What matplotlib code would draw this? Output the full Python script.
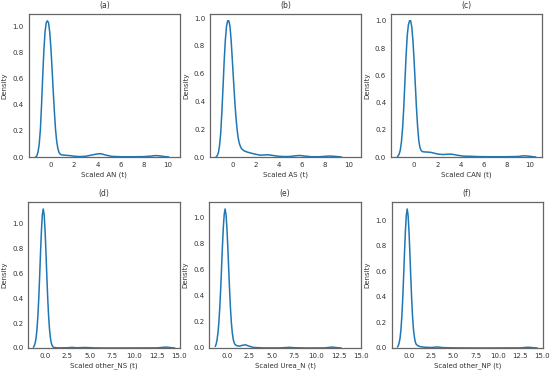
import matplotlib
matplotlib.use("Agg")
import matplotlib.pyplot as plt
import numpy as np

# ---- data (x, density) ----
a_x = [-1.3, -1.2, -1.1, -1.0, -0.9, -0.8, -0.7, -0.6, -0.5, -0.4, -0.3, -0.2, -0.1, 0.0, 0.1, 0.2, 0.3, 0.4, 0.5,
       0.6, 0.7, 0.8, 0.9, 1.2, 1.6, 2.0, 2.5, 3.0, 3.5, 4.0, 4.3, 4.7, 5.2, 6.0, 7.0, 8.0, 8.6, 9.0, 9.4, 9.8, 10.1]
a_y = [0.0, 0.01, 0.04, 0.10, 0.21, 0.40, 0.62, 0.82, 0.96, 1.03, 1.045, 1.03, 0.96, 0.84, 0.68, 0.51, 0.35, 0.21, 0.12,
       0.065, 0.035, 0.022, 0.017, 0.014, 0.011, 0.006, 0.003, 0.006, 0.015, 0.024, 0.025, 0.015, 0.005, 0.002, 0.002,
       0.003, 0.007, 0.011, 0.008, 0.003, 0.001]

b_x = [-1.4, -1.3, -1.2, -1.1, -1.0, -0.9, -0.8, -0.7, -0.6, -0.5, -0.4, -0.3, -0.2, -0.1, 0.0, 0.1, 0.2, 0.3, 0.4,
       0.5, 0.6, 0.7, 0.8, 1.0, 1.3, 1.6, 2.0, 2.4, 2.8, 3.1, 3.5, 4.0, 4.5, 5.0, 5.5, 5.8, 6.2, 6.8, 7.5, 8.0, 8.4,
       8.9, 9.4]
b_y = [0.0, 0.01, 0.03, 0.08, 0.17, 0.32, 0.50, 0.69, 0.84, 0.94, 0.98, 0.98, 0.94, 0.84, 0.70, 0.56, 0.42, 0.30, 0.21,
       0.14, 0.10, 0.075, 0.06, 0.045, 0.035, 0.028, 0.02, 0.013, 0.015, 0.016, 0.011, 0.005, 0.003, 0.004, 0.009,
       0.011, 0.007, 0.002, 0.002, 0.005, 0.007, 0.004, 0.0]

c_x = [-1.45, -1.3, -1.2, -1.1, -1.0, -0.9, -0.8, -0.7, -0.6, -0.5, -0.4, -0.3, -0.2, -0.1, 0.0, 0.1, 0.2, 0.3, 0.4,
       0.5, 0.6, 0.7, 0.9, 1.2, 1.5, 2.0, 2.5, 3.0, 3.3, 3.8, 4.3, 5.0, 5.5, 6.5, 8.0, 9.0, 9.5, 9.9, 10.5]
c_y = [0.0, 0.02, 0.05, 0.11, 0.21, 0.36, 0.55, 0.74, 0.89, 0.97, 1.0, 1.0, 0.95, 0.85, 0.70, 0.53, 0.36, 0.22, 0.12,
       0.07, 0.048, 0.04, 0.037, 0.036, 0.033, 0.022, 0.018, 0.021, 0.02, 0.012, 0.006, 0.005, 0.003, 0.002, 0.002,
       0.004, 0.009, 0.006, 0.0]

d_x = [-1.3, -1.2, -1.1, -1.0, -0.9, -0.8, -0.7, -0.6, -0.5, -0.4, -0.3, -0.2, -0.1, 0.0, 0.1, 0.2, 0.3, 0.4, 0.5,
       0.6, 0.7, 0.8, 0.9, 1.0, 1.5, 2.5, 3.0, 3.5, 4.5, 5.5, 7.0, 12.5, 13.5, 14.5]
d_y = [0.006, 0.019, 0.041, 0.082, 0.15, 0.257, 0.40, 0.58, 0.776, 0.95, 1.075, 1.12, 1.075, 0.95, 0.776, 0.58, 0.40,
       0.257, 0.15, 0.082, 0.041, 0.019, 0.008, 0.004, 0.001, 0.002, 0.005, 0.002, 0.004, 0.001, 0.0, 0.001, 0.007, 0.0]

e_x = [-1.3, -1.2, -1.1, -1.0, -0.9, -0.8, -0.7, -0.6, -0.5, -0.4, -0.3, -0.2, -0.1, 0.0, 0.1, 0.2, 0.3, 0.4, 0.5,
       0.6, 0.7, 0.8, 0.9, 1.1, 1.4, 1.8, 2.1, 2.5, 3.0, 4.0, 6.0, 7.0, 7.6, 9.0, 11.0, 11.8, 12.3, 12.8]
e_y = [0.012, 0.03, 0.064, 0.116, 0.195, 0.305, 0.446, 0.609, 0.777, 0.923, 1.024, 1.065, 1.024, 0.923, 0.777, 0.609,
       0.446, 0.305, 0.195, 0.12, 0.07, 0.042, 0.028, 0.018, 0.014, 0.022, 0.024, 0.014, 0.004, 0.001, 0.001, 0.005,
       0.002, 0.0, 0.001, 0.007, 0.003, 0.0]

f_x = [-1.3, -1.2, -1.1, -1.0, -0.9, -0.8, -0.7, -0.6, -0.5, -0.4, -0.3, -0.2, -0.1, 0.0, 0.1, 0.2, 0.3, 0.4, 0.5,
       0.6, 0.7, 0.8, 1.0, 1.3, 1.8, 2.5, 3.2, 3.8, 5.0, 8.0, 12.5, 13.4, 14.0, 14.4]
f_y = [0.008, 0.018, 0.04, 0.079, 0.146, 0.248, 0.389, 0.562, 0.748, 0.918, 1.04, 1.09, 1.04, 0.918, 0.748, 0.562,
       0.389, 0.25, 0.15, 0.09, 0.05, 0.03, 0.018, 0.01, 0.006, 0.004, 0.008, 0.003, 0.001, 0.0, 0.001, 0.006, 0.002, 0.0]

titles = ["(a)", "(b)", "(c)", "(d)", "(e)", "(f)"]
xlabels = ["Scaled AN (t)", "Scaled AS (t)", "Scaled CAN (t)",
           "Scaled other_NS (t)", "Scaled Urea_N (t)", "Scaled other_NP (t)"]
series = [(a_x, a_y), (b_x, b_y), (c_x, c_y), (d_x, d_y), (e_x, e_y), (f_x, f_y)]

top_xticks = [0, 2, 4, 6, 8, 10]
bot_xticks = [0.0, 2.5, 5.0, 7.5, 10.0, 12.5, 15.0]
yticks = [0.0, 0.2, 0.4, 0.6, 0.8, 1.0]

# ---- layout (pixel boxes: left, right, top, bottom) ----
W, H = 550, 372
boxes = [(28.5, 180, 14, 157), (210, 361, 14, 157), (391, 542, 14, 157),
         (28.3, 180, 202, 348), (209.3, 361, 202, 348), (391.7, 542.7, 202, 348)]
xlims = [(-1.92, 11.08), (-1.92, 11.08), (-2.0, 11.04),
         (-1.87, 15.08), (-1.97, 15.02), (-1.94, 15.02)]

fig = plt.figure(figsize=(W / 100, H / 100), dpi=100)
plt.rcParams['font.family'] = ['DejaVu Sans']
txt = '0.2'
for i, ((x, y), (l, r, t, b)) in enumerate(zip(series, boxes)):
    ax = fig.add_axes([l / W, 1 - b / H, (r - l) / W, (b - t) / H])
    ax.plot(x, y, color='#1f77b4', lw=1.1, solid_capstyle='round')
    ax.set_xlim(*xlims[i])
    ax.set_ylim(0, max(y) * 1.05)
    ax.set_xticks(top_xticks if i < 3 else bot_xticks)
    if i >= 3:
        ax.set_xticklabels([f"{v:.1f}" for v in bot_xticks])
    ax.set_yticks(yticks)
    ax.set_yticklabels([f"{v:.1f}" for v in yticks])
    ax.tick_params(labelsize=5, length=0, pad=3.5, colors=txt)
    ax.set_title(titles[i], fontsize=5.5, color=txt, pad=4)
    ax.set_xlabel(xlabels[i], fontsize=5, color=txt, labelpad=2.5)
    ax.set_ylabel("Density", fontsize=5, color=txt, labelpad=3.5)
    for s in ax.spines.values():
        s.set_color('0.4')
        s.set_linewidth(0.9)

fig.savefig("out.png", dpi=100)
